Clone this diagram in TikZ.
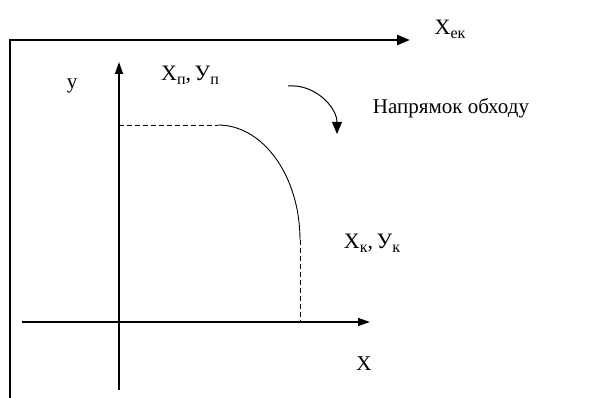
\documentclass[tikz,border=0pt]{standalone}
\usepackage{fontspec}
\setmainfont{Liberation Serif}
\usetikzlibrary{arrows.meta}
\newcommand{\lowsub}[1]{\raisebox{-4pt}{\fontsize{16}{16}\selectfont #1}}
\tikzset{
  lbl/.style={inner sep=0pt, font=\fontsize{21}{24}\selectfont},
  pointlbl/.style={inner sep=0pt, font=\fontsize{22}{24}\selectfont},
  framearrow/.style={line width=2.4pt, -{Triangle[length=13pt,width=10pt]}},
  axis/.style={line width=1.3pt, -{Triangle[length=12pt,width=8pt]}},
  guide/.style={line width=0.9pt, dash pattern=on 5pt off 3pt},
}
\begin{document}
\begin{tikzpicture}[x=1pt,y=1pt]
  \useasboundingbox (0,0) rectangle (605,398);
  % Outer frame
  \coordinate (frameB) at (10,0);
  \coordinate (frameC) at (10,358);
  \coordinate (frameE) at (410,358);
  \draw[framearrow] (frameB) -- (frameC) -- (frameE);
  \node[pointlbl] (xek) at (450,369) {X\lowsub{ек}};
  % Axes
  \coordinate (yB) at (119,8);
  \coordinate (yT) at (119,336);
  \coordinate (xL) at (22,76);
  \coordinate (xR) at (370,76);
  \draw[axis] (yB) -- (yT);
  \draw[axis] (xL) -- (xR);
  \node[lbl] (ylab) at (72,312) {у};
  \node[lbl] (xlab) at (364,34) {Х};
  % Contour arc with guides
  \coordinate (startY) at (119,273);
  \coordinate (startP) at (218,273);
  \coordinate (endP) at (300,158);
  \coordinate (endX) at (300,76);
  \draw[guide] (startY) -- (startP);
  \draw[guide] (endP) -- (endX);
  \draw[line width=0.9pt] (startP) arc[start angle=90, end angle=0, x radius=82, y radius=115];
  \node[pointlbl] (startlab) at (190,323) {X\lowsub{п},\,У\lowsub{п}};
  \node[pointlbl] (endlab) at (372,155) {X\lowsub{к},\,У\lowsub{к}};
  % Direction
  \coordinate (dirA) at (288,312);
  \coordinate (dirB) at (337,264);
  \draw[line width=1pt, -{Triangle[length=12pt,width=10pt]}] (dirA) to[out=5, in=90] (dirB);
  \node[lbl] (dirlab) at (451,290) {Напрямок обходу};
\end{tikzpicture}
\end{document}
